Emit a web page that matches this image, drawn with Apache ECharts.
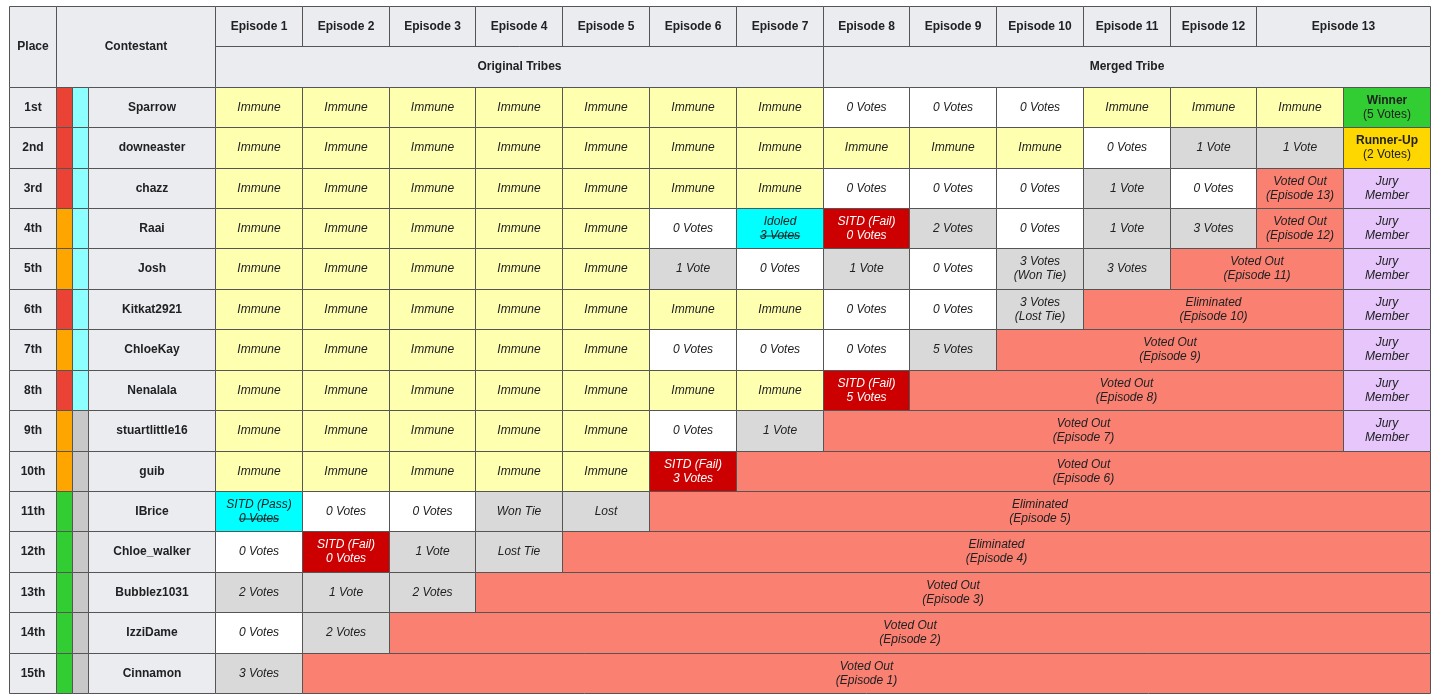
<!DOCTYPE html>
<html>
<head>
<meta charset="utf-8">
<script src="https://cdn.jsdelivr.net/npm/echarts@6/dist/echarts.min.js"></script>
<style>
html,body{margin:0;padding:0;background:#fff;}
#chart{width:1432px;height:696px;}
</style>
</head>
<body>
<div id="chart"></div>
<script>
// ---------------- DATA ----------------
const places = ['1st','2nd','3rd','4th','5th','6th','7th','8th','9th','10th','11th','12th','13th','14th','15th'];
const contestants = ['Sparrow','downeaster','chazz','Raai','Josh','Kitkat2921','ChloeKay','Nenalala','stuartlittle16','guib','IBrice','Chloe_walker','Bubblez1031','IzziDame','Cinnamon'];
const originalTribe = ['Red','Red','Red','Orange','Orange','Red','Orange','Red','Orange','Orange','Green','Green','Green','Green','Green'];
const secondTribe = ['Cyan','Cyan','Cyan','Cyan','Cyan','Cyan','Cyan','Cyan','None','None','None','None','None','None','None'];
const episodes = ['Episode 1','Episode 2','Episode 3','Episode 4','Episode 5','Episode 6','Episode 7','Episode 8','Episode 9','Episode 10','Episode 11','Episode 12','Episode 13'];
const episodeSpans = [1,1,1,1,1,1,1,1,1,1,1,1,2];
const phases = ['Original Tribes','Merged Tribe'];
const phaseSpans = [7,7];

// voting history: [label ('|' = new line, '~' = struck through line), kind, span]
const IM = ['Immune','imm'];
const V0 = ['0 Votes','safe'];
const JU = ['Jury|Member','jury'];
const history = [
  [IM,IM,IM,IM,IM,IM,IM,V0,V0,V0,IM,IM,IM,['Winner|(5 Votes)','win']],
  [IM,IM,IM,IM,IM,IM,IM,IM,IM,IM,V0,['1 Vote','vote'],['1 Vote','vote'],['Runner-Up|(2 Votes)','runner']],
  [IM,IM,IM,IM,IM,IM,IM,V0,V0,V0,['1 Vote','vote'],V0,['Voted Out|(Episode 13)','out'],JU],
  [IM,IM,IM,IM,IM,V0,['Idoled|~3 Votes','idol'],['SITD (Fail)|0 Votes','sitd'],['2 Votes','vote'],V0,['1 Vote','vote'],['3 Votes','vote'],['Voted Out|(Episode 12)','out'],JU],
  [IM,IM,IM,IM,IM,['1 Vote','vote'],V0,['1 Vote','vote'],V0,['3 Votes|(Won Tie)','vote'],['3 Votes','vote'],['Voted Out|(Episode 11)','out',2],JU],
  [IM,IM,IM,IM,IM,IM,IM,V0,V0,['3 Votes|(Lost Tie)','vote'],['Eliminated|(Episode 10)','out',3],JU],
  [IM,IM,IM,IM,IM,V0,V0,V0,['5 Votes','vote'],['Voted Out|(Episode 9)','out',4],JU],
  [IM,IM,IM,IM,IM,IM,IM,['SITD (Fail)|5 Votes','sitd'],['Voted Out|(Episode 8)','out',5],JU],
  [IM,IM,IM,IM,IM,V0,['1 Vote','vote'],['Voted Out|(Episode 7)','out',6],JU],
  [IM,IM,IM,IM,IM,['SITD (Fail)|3 Votes','sitd'],['Voted Out|(Episode 6)','out',8]],
  [['SITD (Pass)|~0 Votes','idol'],V0,V0,['Won Tie','vote'],['Lost','vote'],['Eliminated|(Episode 5)','out',9]],
  [V0,['SITD (Fail)|0 Votes','sitd'],['1 Vote','vote'],['Lost Tie','vote'],['Eliminated|(Episode 4)','out',10]],
  [['2 Votes','vote'],['1 Vote','vote'],['2 Votes','vote'],['Voted Out|(Episode 3)','out',11]],
  [V0,['2 Votes','vote'],['Voted Out|(Episode 2)','out',12]],
  [['3 Votes','vote'],['Voted Out|(Episode 1)','out',13]]
];

// ---------------- LAYOUT / STYLE ----------------
const FONT = "'Liberation Sans', Arial, sans-serif";
const TXT = '#202122';
const HEAD_BG = '#eaecf0';
const BORDER = '#555';
const tribeColors = {Red:'#ea4335', Orange:'#ffa500', Green:'#32cd32', Cyan:'#8effff', None:'#c8c8c8'};
const kindStyle = {
  imm:{fill:'#ffffb0', color:TXT, style:'italic', weight:'normal'},
  safe:{fill:'#ffffff', color:TXT, style:'italic', weight:'normal'},
  vote:{fill:'#d9d9d9', color:TXT, style:'italic', weight:'normal'},
  idol:{fill:'#00ffff', color:TXT, style:'italic', weight:'normal'},
  sitd:{fill:'#cc0000', color:'#ffffff', style:'italic', weight:'normal'},
  out:{fill:'#fa8072', color:TXT, style:'italic', weight:'normal'},
  win:{fill:'#32cd32', color:TXT, style:'normal', weight:'bold', sub:true},
  runner:{fill:'#ffd700', color:TXT, style:'normal', weight:'bold', sub:true},
  jury:{fill:'#e6c6fb', color:TXT, style:'italic', weight:'normal'},
  head:{fill:HEAD_BG, color:TXT, style:'normal', weight:'bold'}
};
// column edges (x units = pixels from table left)
const epW = 1215 / 14;
const colEdges = [0, 47, 63, 79, 206];
for (let k = 1; k <= 14; k++) colEdges.push(206 + k * epW);
const TOTAL_W = colEdges[colEdges.length - 1];
const NROWS = 2 + places.length;

// ---------------- BUILD CELLS ----------------
const cells = [];
function addCell(c0, c1, r0, r1, label, kind, fillOverride) {
  cells.push({c0, c1, r0, r1, label, kind, fill: fillOverride});
}
addCell(0, 1, 0, 2, 'Place', 'head');
addCell(1, 4, 0, 2, 'Contestant', 'head');
let c = 4;
episodes.forEach((e, i) => { addCell(c, c + episodeSpans[i], 0, 1, e, 'head'); c += episodeSpans[i]; });
c = 4;
phases.forEach((p, i) => { addCell(c, c + phaseSpans[i], 1, 2, p, 'head'); c += phaseSpans[i]; });
places.forEach((pl, i) => {
  const r = 2 + i;
  addCell(0, 1, r, r + 1, pl, 'head');
  addCell(1, 2, r, r + 1, '', 'head', tribeColors[originalTribe[i]]);
  addCell(2, 3, r, r + 1, '', 'head', tribeColors[secondTribe[i]]);
  addCell(3, 4, r, r + 1, contestants[i], 'head');
  let cc = 4;
  history[i].forEach(h => {
    const span = h[2] || 1;
    addCell(cc, cc + span, r, r + 1, h[0], h[1]);
    cc += span;
  });
});

const measureCtx = document.createElement('canvas').getContext('2d');
function textWidth(t, font) { measureCtx.font = font; return measureCtx.measureText(t).width; }

const chart = echarts.init(document.getElementById('chart'), null, {renderer: 'canvas'});
chart.setOption({
  backgroundColor: '#ffffff',
  animation: false,
  grid: {left: 9, right: 2, top: 6, bottom: 3},
  xAxis: {type: 'value', min: 0, max: TOTAL_W, show: false},
  yAxis: {type: 'value', min: 0, max: NROWS, inverse: true, show: false},
  series: [{
    type: 'custom',
    coordinateSystem: 'cartesian2d',
    data: cells.map(cl => [colEdges[cl.c0], colEdges[cl.c1], cl.r0, cl.r1]),
    renderItem: function (params, api) {
      const cl = cells[params.dataIndex];
      const p0 = api.coord([api.value(0), api.value(2)]);
      const p1 = api.coord([api.value(1), api.value(3)]);
      const x = Math.round(p0[0]) + 0.5, y = Math.round(p0[1]) + 0.5;
      const w = Math.round(p1[0]) - Math.round(p0[0]);
      const h = Math.round(p1[1]) - Math.round(p0[1]);
      const ks = kindStyle[cl.kind];
      const children = [{
        type: 'rect',
        shape: {x: x, y: y, width: w, height: h},
        style: {fill: cl.fill || ks.fill, stroke: BORDER, lineWidth: 1}
      }];
      if (cl.label) {
        const lines = cl.label.split('|');
        const cx = x + w / 2, cy = y + h / 2;
        const lh = 14;
        lines.forEach((ln, li) => {
          let strike = false;
          if (ln.charAt(0) === '~') { strike = true; ln = ln.slice(1); }
          const ty = cy + (li - (lines.length - 1) / 2) * lh;
          let weight = ks.weight, fstyle = ks.style;
          if (ks.sub && li > 0) weight = 'normal';
          const font = fstyle + ' ' + weight + ' 12px ' + FONT;
          children.push({
            type: 'text',
            style: {
              text: ln, x: cx, y: ty,
              align: 'center', verticalAlign: 'middle',
              textAlign: 'center', textVerticalAlign: 'middle',
              font: font, fill: ks.color
            }
          });
          if (strike) {
            const tw = textWidth(ln, font);
            children.push({
              type: 'line',
              shape: {x1: cx - tw / 2, y1: ty + 0.5, x2: cx + tw / 2, y2: ty + 0.5},
              style: {stroke: ks.color, lineWidth: 1}
            });
          }
        });
      }
      return {type: 'group', children: children};
    }
  }]
});
</script>
</body>
</html>
